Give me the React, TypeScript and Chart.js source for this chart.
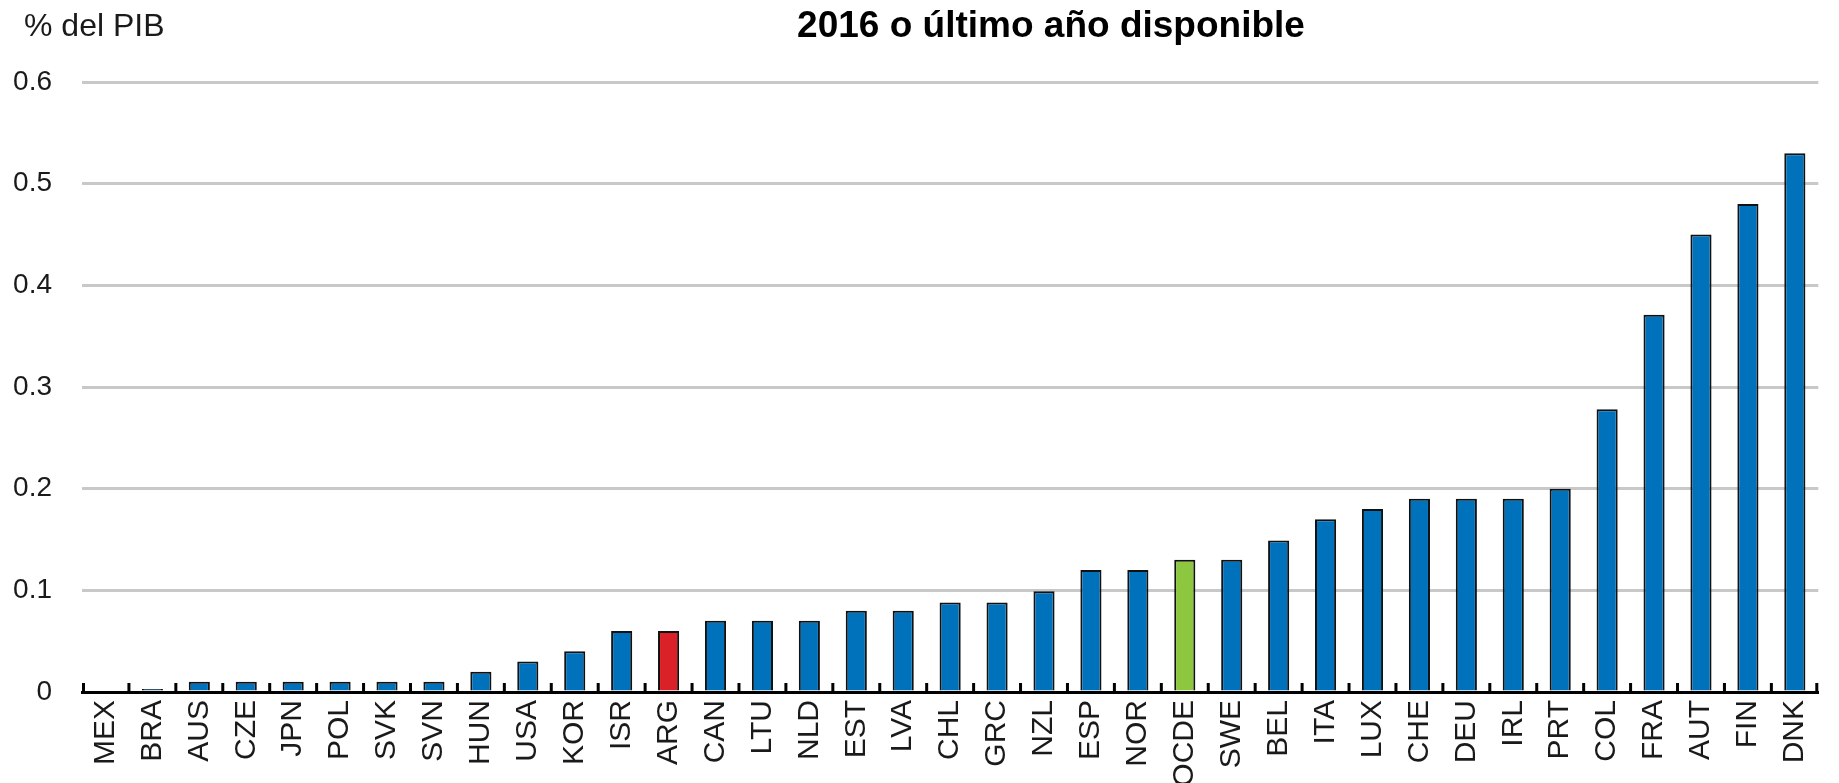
import React, { useEffect, useRef } from "react";
import { Chart, registerables } from "chart.js";

Chart.register(...registerables);

const categories = [
  "MEX", "BRA", "AUS", "CZE", "JPN", "POL", "SVK", "SVN", "HUN", "USA", "KOR", "ISR", "ARG",
  "CAN", "LTU", "NLD", "EST", "LVA", "CHL", "GRC", "NZL", "ESP", "NOR", "OCDE", "SWE", "BEL",
  "ITA", "LUX", "CHE", "DEU", "IRL", "PRT", "COL", "FRA", "AUT", "FIN", "DNK",
];

const values = [
  0, 0.003, 0.01, 0.01, 0.01, 0.01, 0.01, 0.01, 0.02, 0.03, 0.04, 0.06, 0.06,
  0.07, 0.07, 0.07, 0.08, 0.08, 0.088, 0.088, 0.099, 0.12, 0.12, 0.13, 0.13, 0.149,
  0.17, 0.18, 0.19, 0.19, 0.19, 0.2, 0.278, 0.371, 0.45, 0.48, 0.53,
];

const yTicks = [0, 0.1, 0.2, 0.3, 0.4, 0.5, 0.6];

const titleText = "2016 o último año disponible";
const unitText = "% del PIB";

const BLUE = "#0072BC";
const RED = "#DA2128";
const GREEN = "#8DC63F";

const barColors = categories.map((c) => (c === "ARG" ? RED : c === "OCDE" ? GREEN : BLUE));

const W = 1839;
const H = 783;
const FONT = "'Liberation Sans', Arial, sans-serif";

const decorPlugin = {
  id: "decor",
  afterDatasetsDraw(chart: any) {
    const ctx = chart.ctx;
    const xs = chart.scales.x;
    const bottom = chart.chartArea.bottom;
    const n = categories.length;
    ctx.save();
    ctx.strokeStyle = "#000";
    ctx.lineWidth = 3;
    ctx.beginPath();
    for (let i = 0; i <= n; i++) {
      let px;
      if (i === 0) px = xs.left + 1.5;
      else if (i === n) px = xs.right - 1.5;
      else px = (xs.getPixelForValue(i - 1) + xs.getPixelForValue(i)) / 2;
      ctx.moveTo(px, bottom);
      ctx.lineTo(px, bottom - 9);
    }
    ctx.stroke();
    ctx.restore();
  },
  afterDraw(chart: any) {
    const ctx = chart.ctx;
    ctx.save();
    ctx.fillStyle = "#000";
    ctx.textBaseline = "middle";
    ctx.textAlign = "center";
    ctx.font = `bold 37px ${FONT}`;
    ctx.fillText(titleText, 1051, 27);
    ctx.textAlign = "left";
    ctx.fillStyle = "#1a1a1a";
    ctx.font = `32px ${FONT}`;
    ctx.fillText(unitText, 24, 27);
    ctx.restore();
  },
};

export default function App() {
  const ref = useRef<HTMLCanvasElement | null>(null);

  useEffect(() => {
    document.body.style.margin = "0";
    document.body.style.overflow = "hidden";
    const canvas = ref.current;
    if (!canvas) return;
    const chart = new Chart(canvas, {
      type: "bar",
      data: {
        labels: categories,
        datasets: [
          {
            data: values,
            backgroundColor: barColors,
            borderColor: "#111",
            borderWidth: 2,
            barPercentage: 0.45,
            categoryPercentage: 1,
          },
        ],
      },
      plugins: [decorPlugin],
      options: {
        responsive: false,
        animation: false,
        devicePixelRatio: 1,
        layout: { padding: { top: 82, right: 12, left: 0, bottom: 0 } },
        plugins: {
          legend: { display: false },
          title: { display: false },
          tooltip: { enabled: false },
        },
        scales: {
          x: {
            offset: true,
            grid: { display: false, drawOnChartArea: false, drawTicks: false },
            border: { display: true, color: "#000", width: 3 },
            ticks: {
              autoSkip: false,
              maxRotation: 90,
              minRotation: 90,
              padding: 8,
              color: "#1a1a1a",
              font: { family: FONT, size: 30 },
            },
            afterFit(scale: any) {
              scale.height = H - 692;
            },
          },
          y: {
            min: 0,
            max: 0.6,
            afterBuildTicks(scale: any) {
              scale.ticks = yTicks.map((v) => ({ value: v }));
            },
            grid: { color: "#c8c8c8", lineWidth: 3, drawTicks: false },
            border: { display: false },
            ticks: {
              padding: 30,
              color: "#1a1a1a",
              font: { family: FONT, size: 28 },
              callback: (v: any) => String(Math.round(Number(v) * 10) / 10),
            },
            afterFit(scale: any) {
              scale.width = 82;
            },
          },
        },
      },
    });
    return () => chart.destroy();
  }, []);

  return (
    <div style={{ width: W, height: H, background: "#fff" }}>
      <canvas ref={ref} width={W} height={H} style={{ display: "block" }} />
    </div>
  );
}
